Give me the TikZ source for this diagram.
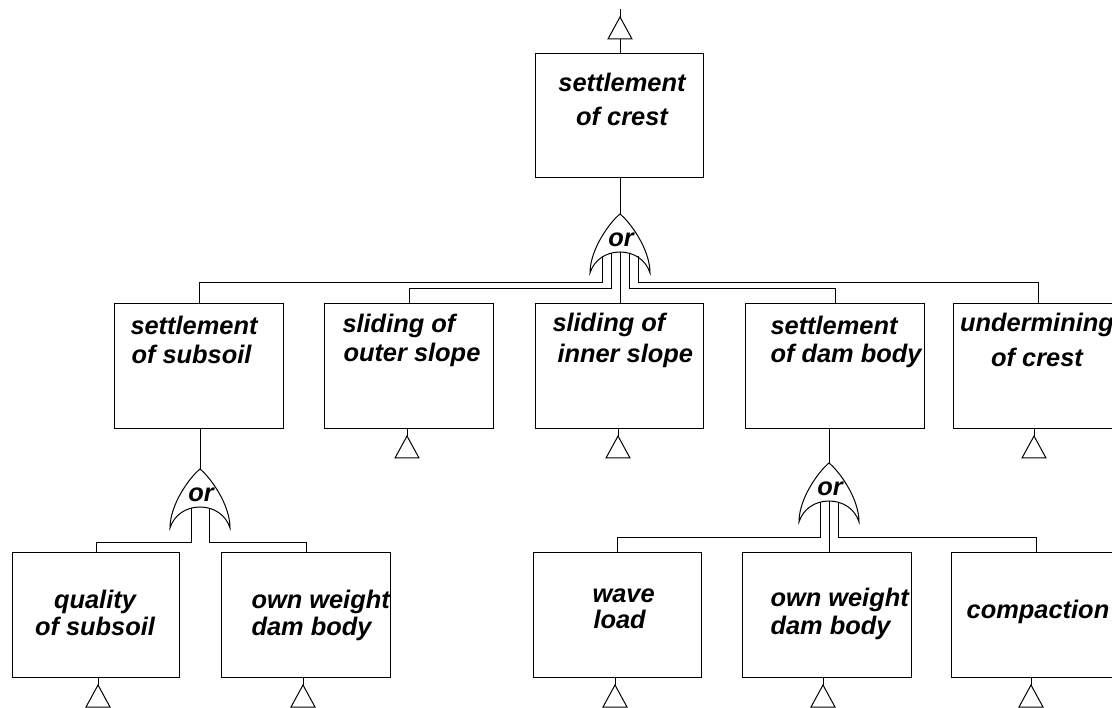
\documentclass[tikz,border=0pt]{standalone}
\usepackage{fontspec}
\setmainfont{Liberation Sans}
\begin{document}
\begin{tikzpicture}[x=1pt,y=-1pt,
  line width=1pt,
  box/.style={draw, rectangle, inner sep=0pt, anchor=north west, minimum height=125pt},
  lbl/.style={inner sep=0pt, font=\fontsize{25.4pt}{30pt}\selectfont\bfseries\itshape},
  lw/.style={lbl, anchor=base west},
  lc/.style={lbl, anchor=base},
  gate/.pic={
    \draw (-30,59) .. controls (-30,35) and (-10,8) .. (0,0)
      .. controls (10,8) and (30,35) .. (30,59)
      .. controls (26,46) and (14,38) .. (0,38)
      .. controls (-14,38) and (-26,46) .. (-30,59) -- cycle;
    \coordinate (-apex) at (0,0);
    \coordinate (-l2) at (-18,42);
    \coordinate (-l1) at (-9,39);
    \coordinate (-c)  at (0,38);
    \coordinate (-r1) at (9,39);
    \coordinate (-r2) at (18,42);
    \node[lc] at (1,33) {or};
  },
  transfer/.pic={
    \draw (0,0) -- (12,22) -- (-12,22) -- cycle;
    \coordinate (-top) at (0,0);
    \coordinate (-base) at (0,22);
  }
]
\useasboundingbox (0,0) rectangle (1112,708);
\clip (0,0) rectangle (1112,708);

% bus levels of the gate outputs
\coordinate (bus1o) at (0,283);
\coordinate (bus1i) at (0,289);
\coordinate (bus2) at (0,543);
\coordinate (bus3) at (0,538);

% top event
\coordinate (feed) at (620,9);
\pic (t0) at (620,17) {transfer};
\node[box, minimum width=168pt, minimum height=124pt] (top) at (535,53) {};
\node[lc] (toplab1) at (622,92) {settlement};
\node[lc] (toplab2) at (622,126) {of crest};
\draw (feed) -- (t0-top);
\draw (t0-base) -- (top.north -| t0-base);

% first or gate
\pic (g1) at (620,214) {gate};
\draw (top.south -| g1-apex) -- (g1-apex);

% second level events
\node[box, minimum width=169pt] (b1) at (114,303) {};
\node[box, minimum width=169pt] (b2) at (324,303) {};
\node[box, minimum width=168pt] (b3) at (535,303) {};
\node[box, minimum width=179pt] (b4) at (745,303) {};
\node[box, minimum width=169pt] (b5) at (953,303) {};

\node[lw] (b1lab1) at (130,335) {settlement};
\node[lw] (b1lab2) at (131,364) {of subsoil};
\node[lw] (b2lab1) at (342,333) {sliding of};
\node[lw] (b2lab2) at (343,362) {outer slope};
\node[lw] (b3lab1) at (552,332) {sliding of};
\node[lw] (b3lab2) at (557,363) {inner slope};
\node[lw] (b4lab1) at (770,335) {settlement};
\node[lw] (b4lab2) at (770,363) {of dam body};
\node[lc] (b5lab1) at (1037,332) {undermining};
\node[lc] (b5lab2) at (1037,367) {of crest};

\draw (g1-l2) |- (b1.north |- bus1o) -- (b1.north);
\draw (g1-l1) |- (b2.north |- bus1i) -- (b2.north);
\draw (g1-c) -- (g1-c |- b3.north);
\draw (g1-r1) |- (b4.north |- bus1i) -- (b4.north);
\draw (g1-r2) |- (b5.north |- bus1o) -- (b5.north);

% transfers below second level
\pic (t2) at (407,436) {transfer};
\pic (t3) at (618,436) {transfer};
\pic (t5) at (1034,436) {transfer};
\draw (b2.south -| t2-top) -- (t2-top);
\draw (b3.south -| t3-top) -- (t3-top);
\draw (b5.south -| t5-top) -- (t5-top);

% gates below settlement branches
\pic (g2) at (200,469) {gate};
\pic (g3) at (829,463) {gate};
\draw (b1.south -| g2-apex) -- (g2-apex);
\draw (b4.south -| g3-apex) -- (g3-apex);

% third level events
\node[box, minimum width=167pt] (q)    at (12,552) {};
\node[box, minimum width=169pt] (ow1)  at (221,552) {};
\node[box, minimum width=168pt] (wave) at (533,552) {};
\node[box, minimum width=169pt] (ow2)  at (742,552) {};
\node[box, minimum width=169pt] (comp) at (951,552) {};

\node[lc] (qlab1) at (95,608) {quality};
\node[lc] (qlab2) at (95,635) {of subsoil};
\node[lw] (ow1lab1) at (251,608) {own weight};
\node[lw] (ow1lab2) at (251,635) {dam body};
\node[lw] (wlab1) at (592,602) {wave};
\node[lw] (wlab2) at (593,628) {load};
\node[lw] (ow2lab1) at (770,606) {own weight};
\node[lw] (ow2lab2) at (770,634) {dam body};
\node[lc] (clab) at (1038,618) {compaction};

\draw (g2-l1) |- (q.north |- bus2) -- (q.north);
\draw (g2-r1) |- (ow1.north |- bus2) -- (ow1.north);
\draw (g3-l1) |- (wave.north |- bus3) -- (wave.north);
\draw (g3-c) -- (g3-c |- ow2.north);
\draw (g3-r1) |- (comp.north |- bus3) -- (comp.north);

% transfers below third level
\pic (t6) at (98,685) {transfer};
\pic (t7) at (303,685) {transfer};
\pic (t8) at (615,685) {transfer};
\pic (t9) at (823,685) {transfer};
\pic (t10) at (1031,685) {transfer};
\draw (q.south -| t6-top) -- (t6-top);
\draw (ow1.south -| t7-top) -- (t7-top);
\draw (wave.south -| t8-top) -- (t8-top);
\draw (ow2.south -| t9-top) -- (t9-top);
\draw (comp.south -| t10-top) -- (t10-top);
\end{tikzpicture}
\end{document}
